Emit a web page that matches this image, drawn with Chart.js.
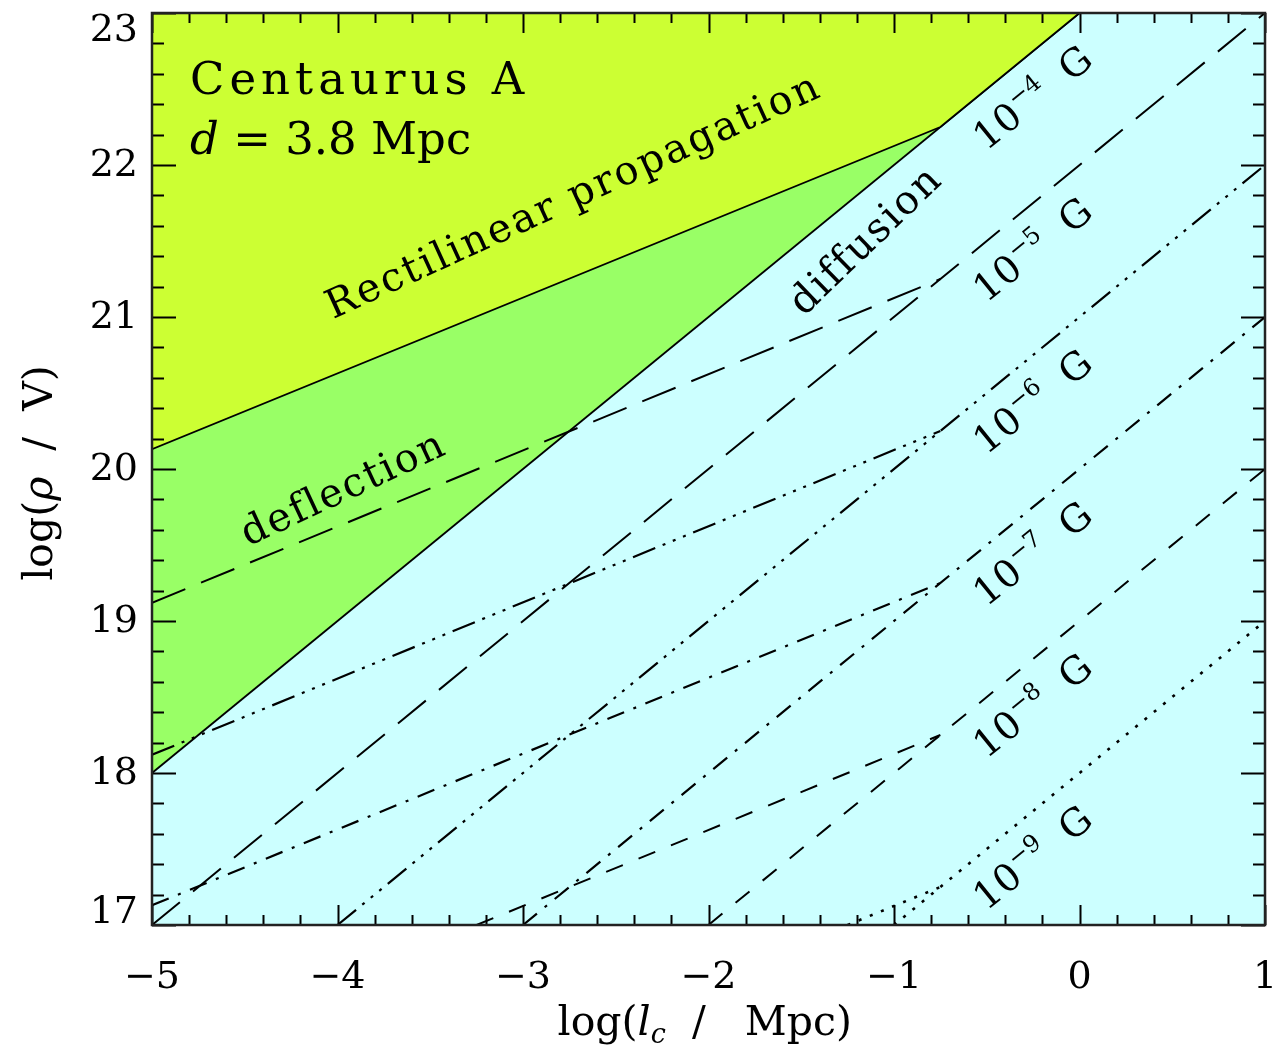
<!DOCTYPE html>
<html>
<head>
<meta charset="utf-8">
<title>Centaurus A</title>
<script src="https://cdn.jsdelivr.net/npm/chart.js@4.4.1/dist/chart.umd.min.js"></script>
<style>
    html, body { margin: 0; padding: 0; background: #fff; }
    #wrap { width: 1277px; height: 1052px; }
</style>
</head>
<body>
<div id="wrap"><canvas id="rigidityChart" width="1277" height="1052"></canvas></div>
<script>
// eixos
const xTicks = [-5, -4, -3, -2, -1, 0, 1];
const yTicks = [17, 18, 19, 20, 21, 22, 23];

// fronteiras das regioes (log l_c, log rho)
const rectX = [-5, -0.75, 0];
const rectY = [20.13, 22.25, 23.0];
const diffBoundX = [-5, 0];
const diffBoundY = [18.0, 23.0];

// campos magneticos (rotulos)
const fieldExp = ['\u22124', '\u22125', '\u22126', '\u22127', '\u22128', '\u22129'];

// 10^-5 G
const defl5X = [-5, -0.75];
const defl5Y = [19.12, 21.25];
const diff5X = [-5, 1];
const diff5Y = [17.0, 23.0];

// 10^-6 G
const defl6X = [-5, -0.75];
const defl6Y = [18.12, 20.25];
const diff6X = [-4, 1];
const diff6Y = [17.0, 22.0];

// 10^-7 G
const defl7X = [-5, -0.75];
const defl7Y = [17.13, 19.25];
const diff7X = [-3, 1];
const diff7Y = [17.0, 21.0];

// 10^-8 G
const defl8X = [-3.25, -0.75];
const defl8Y = [17.0, 18.25];
const diff8X = [-2, 1];
const diff8Y = [17.0, 20.0];

// 10^-9 G
const defl9X = [-1.25, -0.75];
const defl9Y = [17.0, 17.25];
const diff9X = [-1, 1];
const diff9Y = [17.0, 19.0];

const serif = '"DejaVu Serif", "Liberation Serif", serif';

function pontos(xs, ys) {
    return xs.map((x, i) => ({ x: x, y: ys[i] }));
}

function linha(xs, ys, dash, width) {
    return {
        data: pontos(xs, ys),
        showLine: true,
        fill: false,
        borderColor: '#000',
        borderWidth: width || 2,
        borderDash: dash,
        pointRadius: 0,
        tension: 0
    };
}

const dashLong = [36, 17];
const dashDot3 = [24, 8, 3, 8, 3, 8, 3, 8];
const dashDot = [18, 10, 3, 10];
const dashShort = [18, 17];
const dotted = [3, 9];

// desenha varios pedacos de texto (fontes diferentes) em sequencia
function drawRuns(ctx, runs, x, y, angle, align, mid) {
    ctx.save();
    ctx.translate(x, y);
    ctx.rotate(angle * Math.PI / 180);
    ctx.translate(0, mid || 0);
    ctx.textAlign = 'left';
    ctx.textBaseline = 'alphabetic';
    ctx.fillStyle = '#000';
    let total = 0;
    runs.forEach(r => {
        ctx.font = r.font;
        ctx.letterSpacing = r.ls || '0px';
        r.w = ctx.measureText(r.t).width;
        total += r.w;
    });
    let cx = align === 'left' ? 0 : -total / 2;
    runs.forEach(r => {
        ctx.font = r.font;
        ctx.letterSpacing = r.ls || '0px';
        ctx.fillText(r.t, cx, r.dy || 0);
        cx += r.w;
    });
    ctx.restore();
}

const moldura = {
    id: 'moldura',
    beforeDatasetsDraw(chart) {
        const { ctx, chartArea: a } = chart;
        ctx.save();
        ctx.fillStyle = '#ccffff';
        ctx.fillRect(a.left, a.top, a.right - a.left, a.bottom - a.top);
        ctx.restore();
    },
    afterDatasetsDraw(chart) {
        const { ctx, chartArea: a } = chart;
        const xs = chart.scales.x;
        const ys = chart.scales.y;

        // ticks para dentro, nos quatro lados
        ctx.save();
        ctx.strokeStyle = '#000';
        ctx.lineWidth = 2;
        ctx.beginPath();
        for (let i = 0; i <= 30; i++) {
            const v = -5 + i * 0.2;
            const major = i % 5 === 0;
            const px = Math.round(xs.getPixelForValue(v)) + 0.5;
            const len = major ? 20 : 10;
            ctx.moveTo(px, a.bottom); ctx.lineTo(px, a.bottom - len);
            ctx.moveTo(px, a.top); ctx.lineTo(px, a.top + len);
        }
        for (let i = 0; i <= 30; i++) {
            const v = 17 + i * 0.2;
            const major = i % 5 === 0;
            const py = Math.round(ys.getPixelForValue(v)) + 0.5;
            const len = major ? 24 : 12;
            ctx.moveTo(a.left, py); ctx.lineTo(a.left + len, py);
            ctx.moveTo(a.right, py); ctx.lineTo(a.right - len, py);
        }
        ctx.stroke();
        ctx.lineWidth = 2.5;
        ctx.strokeStyle = '#222';
        ctx.strokeRect(a.left, a.top, a.right - a.left, a.bottom - a.top);
        ctx.restore();

        // rotulos de eixo
        ctx.save();
        ctx.fillStyle = '#000';
        ctx.font = '38px ' + serif;
        ctx.textAlign = 'right';
        ctx.textBaseline = 'middle';
        yTicks.forEach(t => {
            let py = ys.getPixelForValue(t);
            py = Math.max(a.top + 17, Math.min(a.bottom - 13, py));
            ctx.fillText(String(t), a.left - 14, py + 1);
        });
        ctx.textAlign = 'center';
        ctx.textBaseline = 'alphabetic';
        xTicks.forEach(t => {
            const label = t < 0 ? '\u2212' + Math.abs(t) : String(t);
            ctx.fillText(label, xs.getPixelForValue(t), 988);
        });
        ctx.restore();

        const f40 = '41px ' + serif;
        const i40 = 'italic 41px ' + serif;
        drawRuns(ctx, [
            { t: 'log(', font: f40 },
            { t: 'l', font: i40 },
            { t: 'c', font: 'italic 27px ' + serif, dy: 8 },
            { t: '  /   Mpc)', font: f40 }
        ], xs.getPixelForValue(-2.02), 1035, 0, 'center');

        drawRuns(ctx, [
            { t: 'log(', font: f40 },
            { t: '\u03c1', font: i40 },
            { t: '  /  V)', font: f40 }
        ], 52, 473, -90, 'center');

        // textos dentro do grafico
        drawRuns(ctx, [{ t: 'Centaurus A', font: '45px ' + serif, ls: '5px' }],
            xs.getPixelForValue(-4.795), ys.getPixelForValue(22.47), 0, 'left');
        drawRuns(ctx, [
            { t: 'd', font: 'italic 45px ' + serif },
            { t: ' = 3.8 Mpc', font: '45px ' + serif }
        ], xs.getPixelForValue(-4.795), ys.getPixelForValue(22.07), 0, 'left');

        const big = '40px ' + serif;
        drawRuns(ctx, [{ t: 'Rectilinear propagation', font: big, ls: '2.5px' }],
            xs.getPixelForValue(-2.73), ys.getPixelForValue(21.80), -24.5, 'center', 13);
        drawRuns(ctx, [{ t: 'deflection', font: big, ls: '2px' }],
            xs.getPixelForValue(-3.97), ys.getPixelForValue(19.875), -25, 'center', 13);
        drawRuns(ctx, [{ t: 'diffusion', font: big, ls: '2px' }],
            xs.getPixelForValue(-1.156), ys.getPixelForValue(21.507), -44, 'center', 13);

        fieldExp.forEach((e, k) => {
            drawRuns(ctx, [
                { t: '10', font: '38px ' + serif, ls: '1px' },
                { t: e, font: '24px ' + serif, dy: -16 },
                { t: '  G', font: '38px ' + serif }
            ], xs.getPixelForValue(-0.25), ys.getPixelForValue(22.44 - k), -39, 'center', 12);
        });
    }
};

const ctx = document.getElementById('rigidityChart').getContext('2d');
const rigidityChart = new Chart(ctx, {
    type: 'scatter',
    data: {
        datasets: [
            linha(defl5X, defl5Y, dashLong),
            linha(diff5X, diff5Y, dashLong),
            linha(defl6X, defl6Y, dashDot3, 2.2),
            linha(diff6X, diff6Y, dashDot3, 2.2),
            linha(defl7X, defl7Y, dashDot, 2.2),
            linha(diff7X, diff7Y, dashDot, 2.2),
            linha(defl8X, defl8Y, dashShort),
            linha(diff8X, diff8Y, dashShort),
            linha(defl9X, defl9Y, dotted, 2.6),
            linha(diff9X, diff9Y, dotted, 2.6),
            {
                data: pontos(rectX, rectY),
                showLine: true,
                fill: 'end',
                backgroundColor: '#ccff33',
                borderColor: '#000',
                borderWidth: 1.8,
                pointRadius: 0
            },
            {
                data: pontos(diffBoundX, diffBoundY),
                showLine: true,
                fill: 'end',
                backgroundColor: '#99ff66',
                borderColor: '#000',
                borderWidth: 1.8,
                pointRadius: 0
            }
        ]
    },
    options: {
        responsive: false,
        animation: false,
        devicePixelRatio: 1,
        events: [],
        layout: { padding: { left: 152, right: 12, top: 13, bottom: 127 } },
        scales: {
            x: { type: 'linear', min: -5, max: 1, display: false },
            y: { type: 'linear', min: 17, max: 23, display: false }
        },
        plugins: {
            legend: { display: false },
            tooltip: { enabled: false }
        }
    },
    plugins: [moldura]
});
</script>
</body>
</html>
